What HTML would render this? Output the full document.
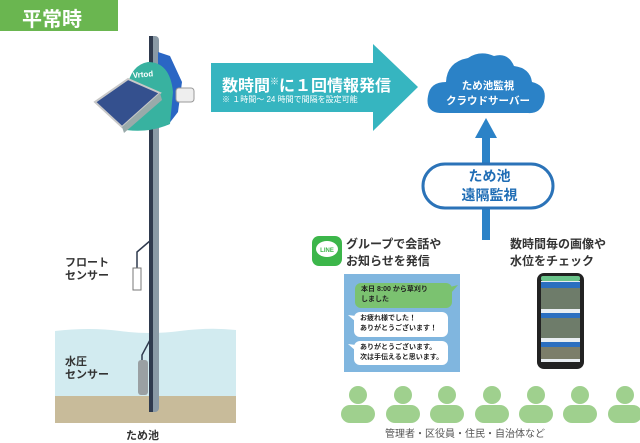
<!DOCTYPE html>
<html><head><meta charset="utf-8"><style>
body{margin:0;width:640px;height:440px;overflow:hidden;background:#fff;position:relative;font-family:"Liberation Sans","Noto Sans CJK JP",sans-serif;font-weight:bold}
.a{position:absolute;white-space:nowrap}
</style></head><body>
<svg class="a" style="left:0;top:0" width="640" height="440">
<rect x="0" y="0" width="118" height="31" fill="#6ab650"/>
<path d="M55 331 Q90 327 120 331 T180 331 T236 330 L236 396 L55 396 Z" fill="#d2ebf0"/>
<rect x="55" y="396" width="181" height="27" fill="#c8bb9a"/>
<rect x="149" y="36" width="10" height="376" rx="4" fill="#8a9aa6"/>
<rect x="149" y="36" width="4" height="376" fill="#2f3a4e"/>
<path d="M151 240 L137 252 L137 268" stroke="#2f3a4e" stroke-width="1.5" fill="none"/>
<path d="M151 335 L150 340 L142 355 L142 362" stroke="#2f3a4e" stroke-width="1.5" fill="none"/>
<rect x="133" y="268" width="8" height="22" fill="#fff" stroke="#777" stroke-width="1"/>
<rect x="138" y="360" width="10" height="35" rx="3" fill="#9aa0a3"/>
<path d="M158 52 L170 56 L182 82 L178 112 L168 125 L158 125 Z" fill="#2a66c4"/>
<rect x="176" y="88" width="18" height="14" rx="3" fill="#eee" stroke="#999"/>
<path d="M126 110 Q124 66 148 62 Q170 62 173 92 L170 124 Q150 133 126 130 Z" fill="#38b2a0"/>
<path d="M95 102 L128 79 L160 93 L122 127 Z" fill="#34508e" stroke="#c8c8c8" stroke-width="2"/>
<path d="M122 127 L160 93 L162 100 L124 133 Z" fill="#9aa"/>
<text x="133" y="78" font-size="8" fill="#fff" font-weight="bold" transform="rotate(-5 133 78)">Vrtod</text>
<path d="M211 63 L373 63 L373 44 L418 87 L373 131 L373 112 L211 112 Z" fill="#36b5c0"/>
<path d="M440 113 Q425 112 428 96 Q430 82 446 82 Q447 62 468 58 Q480 50 494 56 Q508 52 514 66 Q530 68 532 82 Q548 86 544 102 Q540 114 528 113 Z" fill="#2b82c7"/>
<rect x="482" y="136" width="8" height="104" fill="#2b82c7"/>
<path d="M486 118 L497 138 L475 138 Z" fill="#2b82c7"/>
<rect x="423" y="164" width="130" height="44" rx="22" fill="#fff" stroke="#2b73b8" stroke-width="3"/>
<rect x="312" y="236" width="30" height="30" rx="7" fill="#3cb64a"/>
<ellipse cx="327" cy="249" rx="11" ry="8" fill="#fff"/>
<text x="327" y="252" font-size="6" fill="#3cb64a" text-anchor="middle" font-weight="bold">LINE</text>
<rect x="344" y="274" width="116" height="98" fill="#80b6df"/>
<rect x="355" y="283" width="97" height="25" rx="6" fill="#7bc270"/><path d="M450 287 L458 285 L451 293Z" fill="#7bc270"/>
<rect x="354" y="312" width="94" height="25" rx="6" fill="#fff"/><path d="M356 316 L348 315 L356 322Z" fill="#fff"/>
<rect x="354" y="341" width="94" height="24" rx="6" fill="#fff"/><path d="M356 345 L348 344 L356 351Z" fill="#fff"/>
<rect x="537" y="273" width="47" height="96" rx="7" fill="#222"/>
<rect x="541" y="281" width="39" height="81" fill="#e9eef2"/>
<rect x="541" y="282" width="39" height="6" fill="#2b6fc0"/>
<rect x="541" y="288" width="39" height="21" fill="#6e7c6a"/>
<rect x="541" y="313" width="39" height="5" fill="#2b6fc0"/>
<rect x="541" y="318" width="39" height="20" fill="#6e7c6a"/>
<rect x="541" y="342" width="39" height="5" fill="#2b6fc0"/>
<rect x="541" y="347" width="39" height="12" fill="#7c7e6a"/>
<rect x="541" y="276" width="39" height="5" rx="2" fill="#6ac48a"/>
<g fill="#9fd08e">
<circle cx="358" cy="395" r="9"/><rect x="341" y="405" width="34" height="18" rx="9"/>
<circle cx="403" cy="395" r="9"/><rect x="386" y="405" width="34" height="18" rx="9"/>
<circle cx="447" cy="395" r="9"/><rect x="430" y="405" width="34" height="18" rx="9"/>
<circle cx="492" cy="395" r="9"/><rect x="475" y="405" width="34" height="18" rx="9"/>
<circle cx="536" cy="395" r="9"/><rect x="519" y="405" width="34" height="18" rx="9"/>
<circle cx="580" cy="395" r="9"/><rect x="563" y="405" width="34" height="18" rx="9"/>
<circle cx="625" cy="395" r="9"/><rect x="608" y="405" width="34" height="18" rx="9"/>
</g>
</svg>
<div class="a" style="left:22px;top:3px;font-size:20px;color:#fff">平常時</div>
<div class="a" style="left:222px;top:72px;font-size:16px;color:#fff">数時間<sup style="font-size:9px">※</sup>に１回情報発信</div>
<div class="a" style="left:222px;top:94px;font-size:8px;color:#fff;font-weight:normal">※ １時間～ 24 時間で間隔を設定可能</div>
<div class="a" style="left:432px;top:79px;width:112px;text-align:center;font-size:10.5px;color:#fff;line-height:15px">ため池監視<br>クラウドサーバー</div>
<div class="a" style="left:423px;top:167px;width:133px;text-align:center;font-size:14px;color:#1f6db5;line-height:19px">ため池<br>遠隔監視</div>
<div class="a" style="left:346px;top:236px;font-size:12px;color:#333;line-height:17px">グループで会話や<br>お知らせを発信</div>
<div class="a" style="left:510px;top:236px;font-size:12px;color:#333;line-height:17px">数時間毎の画像や<br>水位をチェック</div>
<div class="a" style="left:361px;top:285px;font-size:7px;color:#222;line-height:10px">本日 8:00 から草刈り<br>しました</div>
<div class="a" style="left:360px;top:314px;font-size:7px;color:#222;line-height:10px">お疲れ様でした！<br>ありがとうございます！</div>
<div class="a" style="left:360px;top:343px;font-size:7px;color:#222;line-height:10px">ありがとうございます。<br>次は手伝えると思います。</div>
<div class="a" style="left:65px;top:257px;font-size:11px;color:#333;line-height:13px">フロート<br>センサー</div>
<div class="a" style="left:65px;top:356px;font-size:11px;color:#333;line-height:13px">水圧<br>センサー</div>
<div class="a" style="left:126px;top:427px;font-size:11px;color:#333">ため池</div>
<div class="a" style="left:385px;top:425px;font-size:10px;color:#555;font-weight:normal">管理者・区役員・住民・自治体など</div>
</body></html>
